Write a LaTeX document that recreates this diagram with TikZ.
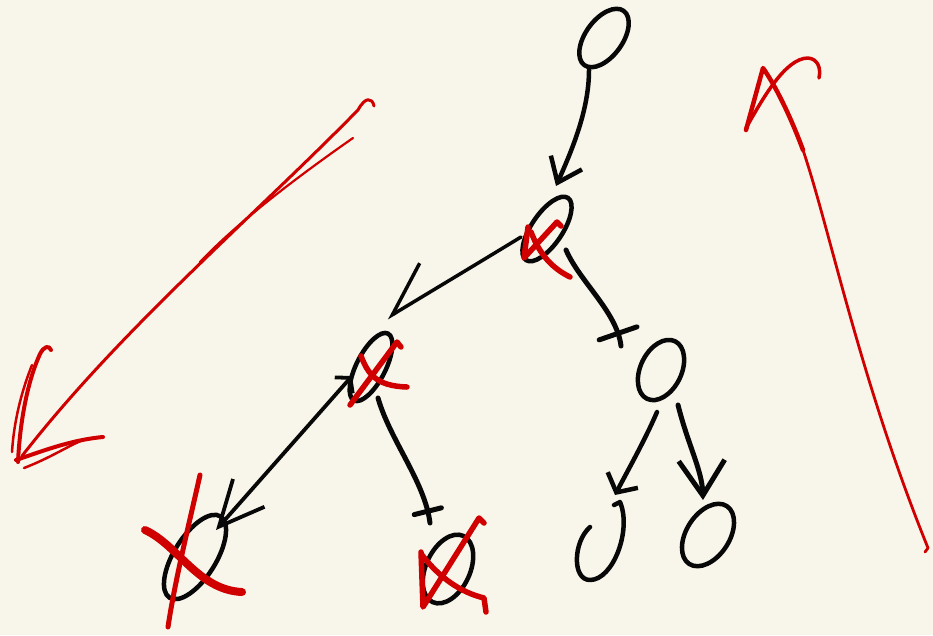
\documentclass[tikz,border=0pt]{standalone}
\usetikzlibrary{arrows.meta,shapes.geometric,decorations.markings,calc}
\definecolor{paper}{RGB}{248,246,235}
\definecolor{ink}{RGB}{8,8,8}
\definecolor{redink}{RGB}{208,0,0}
\tikzset{
  nd/.style={draw=ink, line width=4.5pt, ellipse, inner sep=0pt, outer sep=0pt},
  ghost/.style={ellipse, inner sep=0pt, outer sep=0pt},
  conn/.style={draw=ink, line width=#1, line cap=round, line join=round},
  rx/.style={draw=redink, line width=#1, line cap=round, line join=round},
  crossbar/.style 2 args={postaction={decorate, decoration={markings,
      mark=at position -#1 with {\draw[ink, line width=5pt, line cap=round] (0pt,-#2) -- (0pt,#2);}}}},
}
\begin{document}
\begin{tikzpicture}[x=1pt,y=-1pt]
\fill[paper] (0,0) rectangle (933,635);
\useasboundingbox (0,0) rectangle (933,635);

% nodes
\node[nd, minimum width=37pt, minimum height=67pt, rotate=-36] (root) at (604,38) {};
\node[nd, minimum width=31pt, minimum height=75pt, rotate=-34] (n1) at (547,229) {};
\node[nd, minimum width=29pt, minimum height=75pt, rotate=-27] (n2) at (371,367) {};
\node[nd, minimum width=41pt, minimum height=64pt, rotate=-26] (n3) at (661,370) {};
\node[nd, minimum width=42pt, minimum height=96pt, rotate=-32] (n4) at (195,557) {};
\node[nd, minimum width=44pt, minimum height=73pt, rotate=-25] (n5) at (448,569) {};
\node[ghost, minimum width=40pt, minimum height=78pt, rotate=-20] (n6) at (601,542) {};
\node[nd, minimum width=43pt, minimum height=69pt, rotate=-33] (n7) at (708,535) {};

% open outline of n6
\draw[conn=4.5pt] ($(n6)+(13,-37)$) -- ($(n6)+(19,-40)$) .. controls ($(n6)+(31,-12)$) and ($(n6)+(12,38)$) .. ($(n6)+(-11,38)$) .. controls ($(n6)+(-29,38)$) and ($(n6)+(-28,0)$) .. ($(n6)+(-11,-15)$);

% connectors
\draw[conn=4.5pt, -{Straight Barb[length=22pt,width=34pt]}] ($(root)+(-15,32)$) .. controls (589,110) and (572,150) .. ($(n1)+(9,-43)$);
\draw[conn=3.5pt, -{Straight Barb[harpoon,swap,length=50pt,width=60pt]}] ($(n1)+(-26,8)$) .. controls (480,262) and (430,292) .. ($(n2)+(16,-49)$);
\draw[conn=5pt, crossbar={13pt}{20pt}] ($(n1)+(19,21)$) .. controls (580,282) and (617,312) .. ($(n3)+(-40,-24)$);
\draw[conn=3.8pt, {Straight Barb[length=10pt,width=24pt]}-{Straight Barb[length=45pt,width=42pt]}] ($(n2)+(-19,9)$) -- ($(n4)+(21,-27)$);
\draw[conn=5pt, crossbar={12pt}{14pt}] ($(n2)+(7,31)$) .. controls (390,440) and (425,482) .. ($(n5)+(-18,-46)$);
\draw[conn=4.5pt, -{Straight Barb[length=14pt,width=34pt]}] ($(n3)+(-4,42)$) .. controls (645,440) and (628,470) .. ($(n6)+(14,-47)$);
\draw[conn=5pt, -{Straight Barb[length=35pt,width=46pt]}] ($(n3)+(17,35)$) .. controls (688,445) and (702,470) .. ($(n7)+(-5,-35)$);

% red crosses
\draw[rx=5.5pt] (528,227) -- (524,258) -- (557,222) -- (561,226);
\draw[rx=5.5pt] (531,232) .. controls (540,255) and (552,268) .. (570,277);
\draw[rx=5.5pt] (350,405) -- (397,342) -- (401,347);
\draw[rx=5.5pt] (361,356) .. controls (368,374) and (376,386) .. (407,387);
\draw[rx=5pt] (200,475) .. controls (190,520) and (175,580) .. (168,627);
\draw[rx=8pt] (145,530) .. controls (178,545) and (198,590) .. (242,592);
\draw[rx=5.5pt] (421,552) -- (423,607) -- (479,518) -- (484,523);
\draw[rx=5.5pt] (422,555) .. controls (440,578) and (460,592) .. (484,598) -- (486,612);

% big red arrow (left)
\draw[rx=3pt] (374,106) .. controls (372,97) and (365,97) .. (358,110) .. controls (250,220) and (120,330) .. (22,456);
\draw[rx=2.2pt] (353,138) .. controls (300,175) and (240,220) .. (200,262);
\draw[rx=4pt] (18,462) .. controls (20,420) and (28,380) .. (40,354) .. controls (44,346) and (49,345) .. (51,350);
\draw[rx=2.5pt] (12,452) .. controls (14,420) and (22,390) .. (32,365);
\draw[rx=4pt] (16,460) .. controls (40,452) and (70,440) .. (103,437);
\draw[rx=2.5pt] (24,468) .. controls (50,458) and (68,446) .. (83,440);

% red scribble (right)
\draw[rx=3.5pt] (746,128) .. controls (762,100) and (785,58) .. (808,58) .. controls (818,59) and (821,68) .. (819,78);
\draw[rx=4.5pt] (746,130) -- (763,68) .. controls (775,85) and (790,115) .. (803,150);
\draw[rx=2.8pt] (803,150) .. controls (830,230) and (860,380) .. (928,548) -- (925,552);
\end{tikzpicture}
\end{document}
